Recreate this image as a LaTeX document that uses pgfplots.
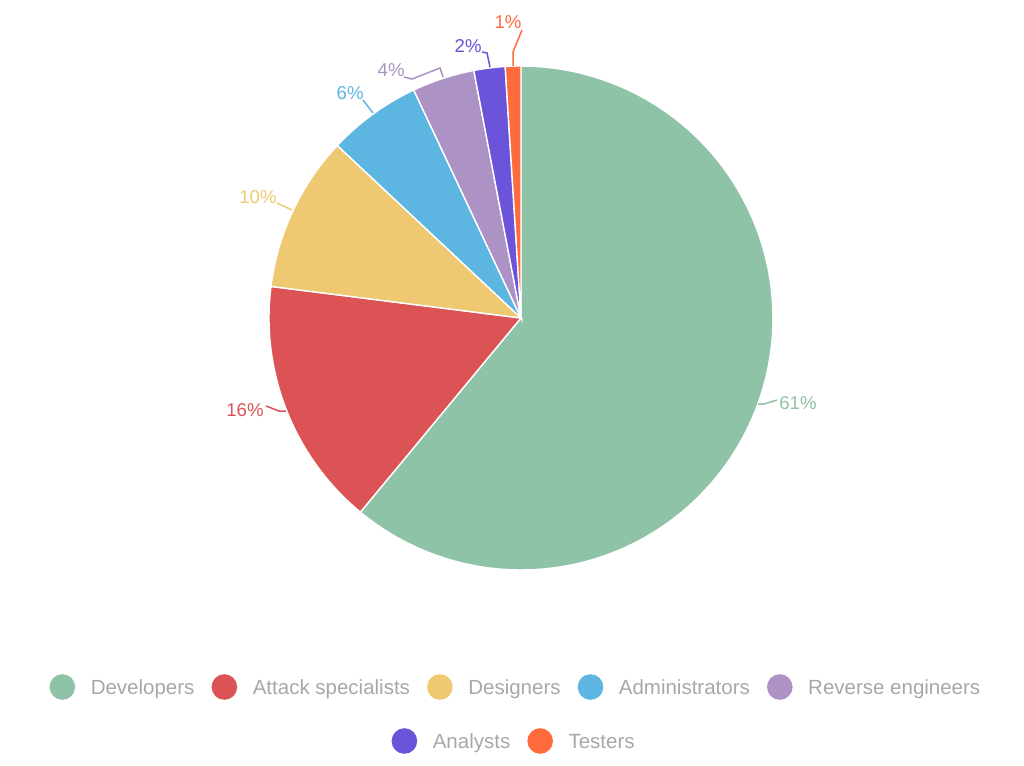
\documentclass[border=0pt]{standalone}
\usepackage{fontspec}
\setmainfont{Liberation Sans}
\usepackage{pgfplots}
\pgfplotsset{compat=1.18}

\definecolor{devcol}{HTML}{8FC3A7}
\definecolor{attcol}{HTML}{DC5356}
\definecolor{descol}{HTML}{EEC972}
\definecolor{admcol}{HTML}{5DB6E2}
\definecolor{revcol}{HTML}{AC92C5}
\definecolor{anacol}{HTML}{6B53DA}
\definecolor{tescol}{HTML}{FF6B3D}
\definecolor{legendgray}{HTML}{A8A8A8}

% one wedge: cumulative share from #1 to #2 (in %), clockwise from 12 o'clock
\newcommand{\slice}[3]{%
  \addplot[forget plot, fill=#3, draw=white, line width=0.7pt,
    domain=90-3.6*#2:90-3.6*#1, samples=90]
    ({521+252*cos(x)}, {318-252*sin(x)}) -- (axis cs:521,318) -- cycle;}

\pgfplotsset{
  pie/.style={hide axis, scale only axis, width=512pt, height=383pt,
    xmin=0, xmax=1024, ymin=0, ymax=766, y dir=reverse, clip=false},
  dotlegend/.style={
    legend image code/.code={%
      \path (-14.75pt,0pt) (14pt,0pt);
      \fill[##1, draw=none] (0pt,3.7pt) circle (6.4pt);},
    legend style={draw=none, fill=none, inner sep=0pt, outer sep=0pt,
      font=\fontsize{10.25}{12}\selectfont, text=legendgray,
      nodes={inner sep=0pt}, cells={anchor=base west}, column sep=0pt}},
}
\tikzset{pct/.style={font=\fontsize{9.3}{11}\selectfont, inner sep=0pt}}

\begin{document}
\begin{tikzpicture}
\fill[white] (0,0) rectangle (512pt,383pt);

\begin{axis}[pie, dotlegend, legend columns=5,
  legend style={at={(axis description cs:0.03174,0.10313)}, anchor=west}]
  % shares: 61, 16, 10, 6, 4, 2, 1
  \slice{0}{61}{devcol}
  \slice{61}{77}{attcol}
  \slice{77}{87}{descol}
  \slice{87}{93}{admcol}
  \slice{93}{97}{revcol}
  \slice{97}{99}{anacol}
  \slice{99}{100}{tescol}

  \addlegendimage{fill=devcol}\addlegendentry{Developers}
  \addlegendimage{fill=attcol}\addlegendentry{Attack specialists}
  \addlegendimage{fill=descol}\addlegendentry{Designers}
  \addlegendimage{fill=admcol}\addlegendentry{Administrators}
  \addlegendimage{fill=revcol}\addlegendentry{Reverse engineers}

  % value labels
  \draw[devcol, line width=0.75pt] (axis cs:758,404) -- (axis cs:764,404) -- (axis cs:777,400);
  \node[pct, text=devcol, anchor=west] at (axis cs:779,403) {61\%};
  \draw[attcol, line width=0.75pt] (axis cs:286,411) -- (axis cs:279,411) -- (axis cs:266,406);
  \node[pct, text=attcol, anchor=east] at (axis cs:264,410) {16\%};
  \draw[descol, line width=0.75pt] (axis cs:292,210) -- (axis cs:277,203);
  \node[pct, text=descol, anchor=east] at (axis cs:277,197) {10\%};
  \draw[admcol, line width=0.75pt] (axis cs:373,113) -- (axis cs:363,100);
  \node[pct, text=admcol, anchor=east] at (axis cs:364,93) {6\%};
  \draw[revcol, line width=0.75pt] (axis cs:443,77) -- (axis cs:440,68) -- (axis cs:412,79) -- (axis cs:404,77);
  \node[pct, text=revcol, anchor=east] at (axis cs:405,70) {4\%};
  \draw[anacol, line width=0.75pt] (axis cs:490,67) -- (axis cs:487,53) -- (axis cs:482,52);
  \node[pct, text=anacol, anchor=east] at (axis cs:482,46) {2\%};
  \draw[tescol, line width=0.75pt] (axis cs:513,66) -- (axis cs:513,52) -- (axis cs:522,30);
  \node[pct, text=tescol] at (axis cs:508,22) {1\%};
\end{axis}

\begin{axis}[pie, dotlegend, legend columns=2,
  legend style={at={(axis description cs:0.36572,0.03264)}, anchor=west}]
  \addlegendimage{fill=anacol}\addlegendentry{Analysts}
  \addlegendimage{fill=tescol}\addlegendentry{Testers}
\end{axis}

\pgfresetboundingbox
\path (0,0) rectangle (512pt,383pt);
\end{tikzpicture}
\end{document}
